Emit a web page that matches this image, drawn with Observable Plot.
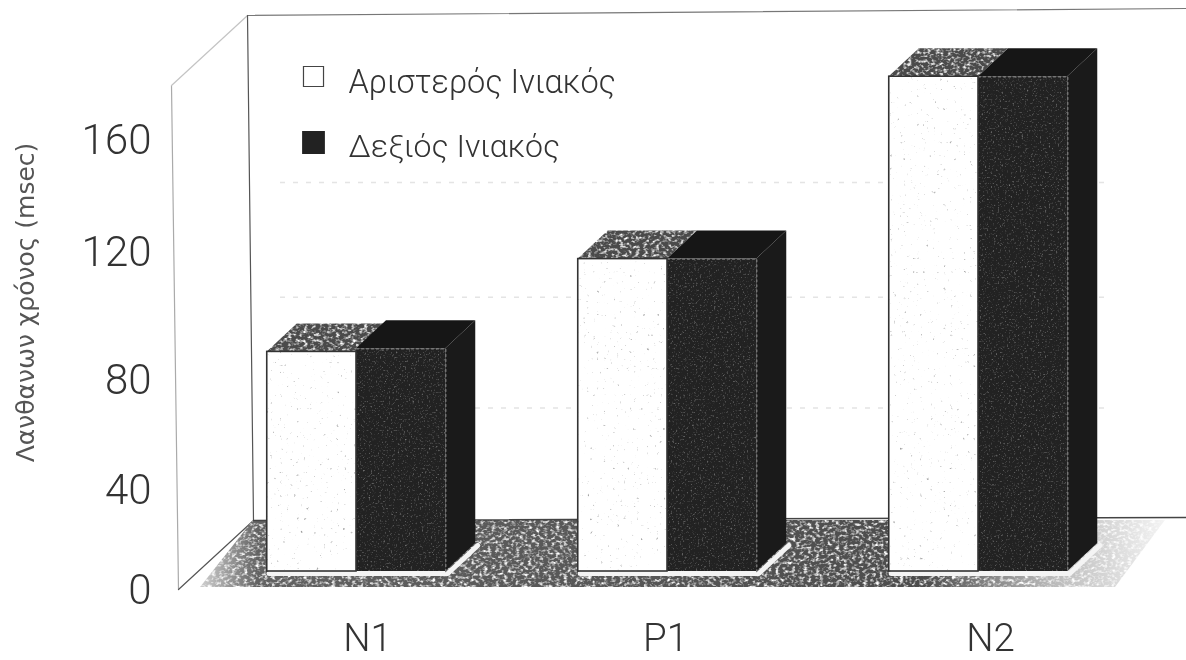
<!DOCTYPE html>
<html>
<head>
<meta charset="utf-8">
<script src="https://cdn.jsdelivr.net/npm/d3@7"></script>
<script src="https://cdn.jsdelivr.net/npm/@observablehq/plot@0.6"></script>
<style>
html,body{margin:0;padding:0;background:#fff}
#chart svg{display:block;filter:blur(.7px);background:#fff}
</style>
</head>
<body>
<svg width="0" height="0" style="position:absolute">
  <defs>
    <linearGradient id="floorGrad" x1="0" x2="1" y1="0" y2="0">
      <stop offset="0" stop-color="#d0d0d0"/>
      <stop offset=".06" stop-color="#626262"/>
      <stop offset=".75" stop-color="#4c4c4c"/>
      <stop offset=".88" stop-color="#b8b8b8"/>
      <stop offset="1" stop-color="#f4f4f4"/>
    </linearGradient>
    <filter id="speckleLight" x="0" y="0" width="100%" height="100%" color-interpolation-filters="sRGB">
      <feTurbulence type="fractalNoise" baseFrequency="0.25 0.34" numOctaves="2" seed="4" result="n"/>
      <feColorMatrix in="n" type="matrix" values="0 0 0 0 1  0 0 0 0 1  0 0 0 0 1  3 0 0 0 -1.4" result="w"/>
      <feComposite in="w" in2="SourceGraphic" operator="atop"/>
    </filter>
    <filter id="speckleDark" x="0" y="0" width="100%" height="100%" color-interpolation-filters="sRGB">
      <feTurbulence type="fractalNoise" baseFrequency="0.55" numOctaves="2" seed="9" result="n"/>
      <feColorMatrix in="n" type="matrix" values="0 0 0 0 .55  0 0 0 0 .55  0 0 0 0 .55  2.5 0 0 0 -1.45" result="w"/>
      <feComposite in="w" in2="SourceGraphic" operator="atop"/>
    </filter>
    <filter id="speckleWhite" x="0" y="0" width="100%" height="100%" color-interpolation-filters="sRGB">
      <feTurbulence type="fractalNoise" baseFrequency="0.3" numOctaves="2" seed="17" result="n"/>
      <feColorMatrix in="n" type="matrix" values="0 0 0 0 .55  0 0 0 0 .55  0 0 0 0 .55  4 0 0 0 -2.85" result="w"/>
      <feComposite in="w" in2="SourceGraphic" operator="atop"/>
    </filter>
  </defs>
</svg>
<div id="chart"></div>
<script>
// ---- values ----
const categories = ["N1", "P1", "N2"];
const leftOccipital = [83, 112, 176];   // Αριστερός Ινιακός
const rightOccipital = [84, 112, 176];  // Δεξιός Ινιακός
const yTicks = [0, 40, 80, 120, 160];
const gridValues = [145, 106, 70];
const legendNames = ["Αριστερός Ινιακός", "Δεξιός Ινιακός"];
const yTitle = "Λανθανων χρόνος (msec)";

// ---- scene scales: x counts categories, y is the printed (unevenly spaced) axis ----
const W = 1186, H = 660;
const xDomain = [-1.1447, 2.6688];
const yDomain = [-28, 0, 40, 80, 120, 160, 210];
const yRange = [660, 590, 490, 380, 252, 140, 0];
const yS = d3.scaleLinear().domain(yDomain).range(yRange);
const xS = d3.scaleLinear().domain(xDomain).range([0, W]);
const lift = (v, p = 28) => yS.invert(yS(v) - p);   // same height, further back in depth

const half = 0.287, depth = 30 / 311, front = -19;
const font = "Roboto, 'Liberation Sans', sans-serif";

const table = categories.flatMap((c, i) => [
  {c, i, side: 0, v: leftOccipital[i], x1: i - half, x2: i},
  {c, i, side: 1, v: rightOccipital[i], x1: i, x2: i + half}
]);
const lefts = table.filter(d => d.side === 0);
const rights = table.filter(d => d.side === 1);
const topFace = r => [
  {y: r.v, x1: r.x1, x2: r.x2},
  {y: lift(r.v), x1: r.x1 + depth, x2: r.x2 + depth}
];
const sideFace = r => [
  {x: r.x2, y1: 0, y2: r.v},
  {x: r.x2 + depth, y1: lift(0), y2: lift(r.v)}
];

const backY = yS.invert(520), floorFrontY = yS.invert(587);
const floor = [
  {y: floorFrontY, x1: xS.invert(200), x2: xS.invert(1115)},
  {y: backY, x1: xS.invert(253), x2: xS.invert(1165)}
];
const wallLine = (a, b) => [{x: xS.invert(a[0]), y: yS.invert(a[1])}, {x: xS.invert(b[0]), y: yS.invert(b[1])}];
const wall = (a, b, stroke, strokeWidth = 1.2) =>
  Plot.line(wallLine(a, b), {x: "x", y: "y", stroke, strokeWidth});

const faces = [];
for (const i of categories.keys()) {
  const l = lefts[i], r = rights[i];
  // pale halo the scan leaves along the foot of each bar
  faces.push(Plot.line([
    {x: l.x1, y: 0}, {x: r.x2, y: 0}, {x: r.x2 + depth, y: lift(0)}
  ], {x: "x", y: "y", stroke: "#f4f4f4", strokeWidth: 5, dy: front + 2, dx: 2}));
  faces.push(Plot.areaX(topFace(l), {y: "y", x1: "x1", x2: "x2", fill: "#4a4a4a", dy: front, imageFilter: "url(#speckleLight)"}));
  faces.push(Plot.areaX(topFace(r), {y: "y", x1: "x1", x2: "x2", fill: "#161616", dy: front}));
  faces.push(Plot.areaY(sideFace(r), {x: "x", y1: "y1", y2: "y2", fill: "#1a1a1a", dy: front}));
}
const edges = rights.map(r => Plot.line([
  {x: r.x1, y: r.v}, {x: r.x2, y: r.v}, {x: r.x2, y: 0}
], {x: "x", y: "y", stroke: "#777", strokeWidth: 1.4, strokeDasharray: "2 3", dy: front}));

const chart = Plot.plot({
  width: W, height: H,
  marginTop: 0, marginRight: 0, marginBottom: 0, marginLeft: 0,
  style: {background: "#fff", overflow: "hidden"},
  x: {type: "linear", domain: xDomain, range: [0, W], axis: null},
  y: {type: "linear", domain: yDomain, range: yRange, axis: null},
  marks: [
    // left wall and back wall outline
    wall([171, 85], [178, 589], "#aaa"),
    wall([171, 85], [247, 15], "#c4c4c4"),
    wall([247, 15], [1186, 8], "#777"),
    wall([247, 15], [253, 520], "#555"),
    wall([178, 589], [253, 520], "#555"),
    // faint scanned gridlines
    Plot.ruleY(gridValues, {x1: xS.invert(280), x2: xS.invert(1110), stroke: "#e4e4e4", strokeWidth: 1.5, strokeDasharray: "5 8"}),
    // floor
    Plot.areaX(floor, {y: "y", x1: "x1", x2: "x2", fill: "url(#floorGrad)", imageFilter: "url(#speckleLight)"}),
    wall([253, 520], [1186, 517], "#444", 1.5),
    // bars
    ...faces,
    Plot.rectY(rights, {x1: "x1", x2: "x2", y1: 0, y2: "v", fill: "#222", dy: front, imageFilter: "url(#speckleDark)"}),
    ...edges,
    Plot.rectY(lefts, {x1: "x1", x2: "x2", y1: 0, y2: "v", fill: "#fff", dy: front, imageFilter: "url(#speckleWhite)"}),
    Plot.rectY(lefts, {x1: "x1", x2: "x2", y1: 0, y2: "v", fill: "none", stroke: "#333", strokeWidth: 1.6, dy: front}),
    // axis
    Plot.axisY({ticks: yTicks, anchor: "left", tickSize: 0, tickPadding: 0, dx: 151, label: null,
      fontSize: 42, fontWeight: 300, fontFamily: font, fill: "#333"}),
    Plot.text([yTitle], {text: d => d, frameAnchor: "left", textAnchor: "middle", rotate: -90, y: yS.invert(302), dx: 25,
      fontSize: 25, fontFamily: "'DejaVu Sans', sans-serif", fill: "#555"}),
    // category labels
    ...categories.map((c, i) => Plot.text([c], {text: d => d, x: () => i, y: yS.invert(638), lineAnchor: "middle",
      dx: [11, -2, 12][i], fontSize: 38.5, fontWeight: 300, fontFamily: font, fill: "#333"})),
    // legend
    Plot.dot([0], {frameAnchor: "top-left", dx: 313, dy: 76, symbol: "square", r: 11.3, fill: "#fff", stroke: "#444", strokeWidth: 1.2}),
    Plot.dot([0], {frameAnchor: "top-left", dx: 313, dy: 142, symbol: "square", r: 12, fill: "#222", stroke: "#222"}),
    Plot.text([legendNames[0]], {text: d => d, frameAnchor: "top-left", dx: 348, dy: 82, lineAnchor: "middle", textAnchor: "start", fontSize: 32.5, fontWeight: 300, fontFamily: font, fill: "#333"}),
    Plot.text([legendNames[1]], {text: d => d, frameAnchor: "top-left", dx: 348, dy: 146, lineAnchor: "middle", textAnchor: "start", fontSize: 32, fontWeight: 300, fontFamily: font, fill: "#333"})
  ]
});
document.getElementById("chart").append(chart);
</script>
</body>
</html>
